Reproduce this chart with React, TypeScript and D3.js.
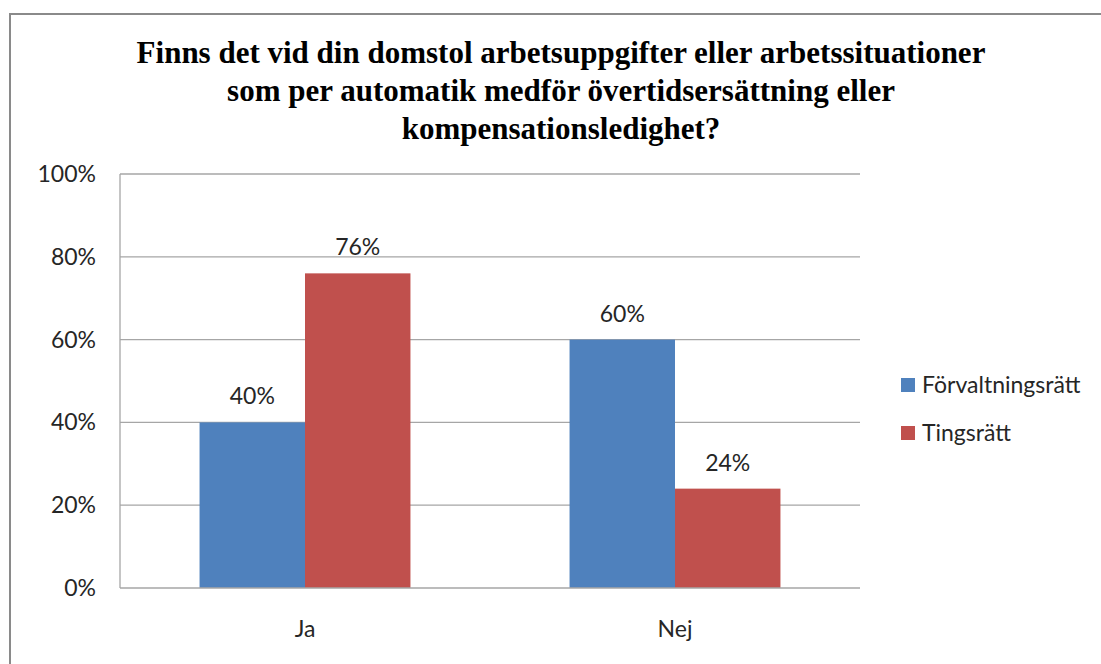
import React from "react";
import * as d3 from "d3";

const categories = ["Ja", "Nej"];
const seriesNames = ["Förvaltningsrätt", "Tingsrätt"];
const forvaltningsratt = [40, 60];
const tingsratt = [76, 24];
const yTicks = [0, 20, 40, 60, 80, 100];
const titleLines = [
  "Finns det vid din domstol arbetsuppgifter eller arbetssituationer",
  "som per automatik medför övertidsersättning eller",
  "kompensationsledighet?",
];
const colors = ["#4F81BD", "#C0504D"];

export default function App() {
  const W = 1101, H = 664;
  const left = 120, right = 860, top = 174, bottom = 588;
  const x = d3.scaleBand().domain(categories).range([left, right]).paddingInner(0.43).paddingOuter(0.215);
  const x1 = d3.scaleBand().domain(seriesNames).range([0, x.bandwidth()]);
  const y = d3.scaleLinear().domain([0, 100]).range([bottom, top]);
  const series = [forvaltningsratt, tingsratt];
  const font = "Lato, 'Open Sans', sans-serif";
  const textColor = "#262626";
  const fs = 23;
  return (
    <svg width={W} height={H} style={{ position: "absolute", left: 0, top: 0, background: "#fff" }}>
      <rect x={10} y={14} width={1200} height={800} fill="#fff" stroke="#8a8a8a" strokeWidth={2} />
      <g fontFamily="'Liberation Serif', 'Times New Roman', serif" fontWeight="bold" fontSize={31} textAnchor="middle" fill="#000">
        {titleLines.map((t, i) => (
          <text key={i} x={561} y={63 + i * 38}>{t}</text>
        ))}
      </g>
      {yTicks.map((t) => (
        <g key={t}>
          {t > 0 && <line x1={left} x2={right} y1={y(t)} y2={y(t)} stroke="#a6a6a6" strokeWidth={1.3} />}
          <text x={96} y={y(t)} dy="0.35em" textAnchor="end" fontFamily={font} fontSize={fs} fill={textColor}>{t}%</text>
        </g>
      ))}
      {categories.map((c, ci) => (
        <g key={c}>
          {series.map((s, si) => {
            const bx = (x(c) as number) + (x1(seriesNames[si]) as number);
            return (
              <g key={si}>
                <rect x={bx} y={y(s[ci])} width={x1.bandwidth()} height={bottom - y(s[ci])} fill={colors[si]} />
                <text x={bx + x1.bandwidth() / 2} y={y(s[ci]) - 18} textAnchor="middle" fontFamily={font} fontSize={fs} fill={textColor}>{s[ci]}%</text>
              </g>
            );
          })}
          <text x={(x(c) as number) + x.bandwidth() / 2} y={637} textAnchor="middle" fontFamily={font} fontSize={fs} fill={textColor}>{c}</text>
        </g>
      ))}
      <line x1={left} x2={right} y1={bottom} y2={bottom} stroke="#a6a6a6" strokeWidth={1.3} />
      <line x1={left} x2={left} y1={top} y2={bottom} stroke="#a6a6a6" strokeWidth={1.3} />
      {seriesNames.map((n, i) => (
        <g key={n}>
          <rect x={901} y={378 + i * 48} width={14} height={14} fill={colors[i]} />
          <text x={922} y={385 + i * 48} dy="0.35em" fontFamily={font} fontSize={fs} fill={textColor}>{n}</text>
        </g>
      ))}
    </svg>
  );
}
